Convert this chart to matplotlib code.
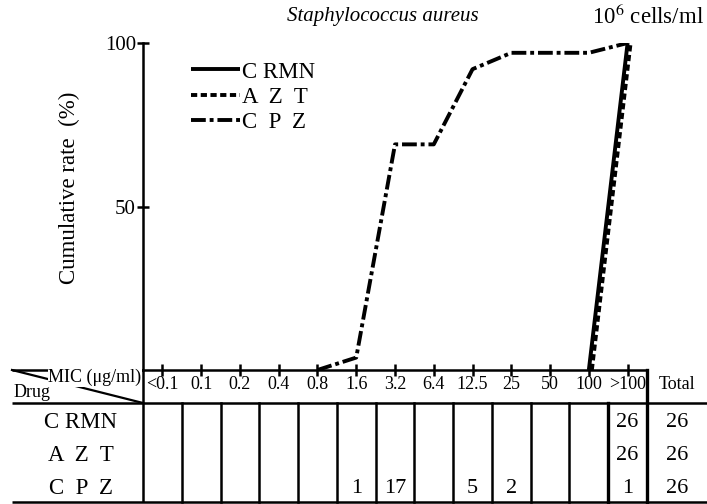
import matplotlib
matplotlib.use("Agg")
import matplotlib.pyplot as plt
import matplotlib.transforms as mtrans

plt.rcParams['font.family'] = ['Liberation Serif', 'DejaVu Serif']
plt.rcParams['mathtext.fontset'] = 'stix'

# ---- data ----
mic_labels = ["<0.1", "0.1", "0.2", "0.4", "0.8", "1.6", "3.2", "6.4", "12.5", "25", "50", "100", ">100"]
drugs = ["C RMN", "A  Z  T", "C  P  Z"]
legend_labels = ["C RMN", "A  Z  T", "C  P  Z"]
crmn_counts = [0, 0, 0, 0, 0, 0, 0, 0, 0, 0, 0, 0, 26]
azt_counts = [0, 0, 0, 0, 0, 0, 0, 0, 0, 0, 0, 0, 26]
cpz_counts = [0, 0, 0, 0, 0, 1, 17, 0, 5, 2, 0, 0, 1]
totals = [26, 26, 26]

# cumulative rate (%) as drawn
crmn_x = [11, 12]
crmn_y = [0, 100]
azt_x = [11, 12]
azt_y = [0, 100]
cpz_x = [4, 5, 6, 7, 8, 9, 10, 11, 12]
cpz_y = [0, 3.8, 69, 69, 92, 97, 97, 97, 100]

W, H = 707, 504
fig = plt.figure(figsize=(W / 100, H / 100), dpi=100)


def px(x0, y0, x1, y1):
    return [x0 / W, 1 - y1 / H, (x1 - x0) / W, (y1 - y0) / H]


LW = 1.8
ax = fig.add_axes(px(143, 43, 647, 370))
ax.set_xlim(-0.5, 12.5)
ax.set_ylim(0, 100)
for s in ["top", "right"]:
    ax.spines[s].set_visible(False)
for s in ["left", "bottom"]:
    ax.spines[s].set_linewidth(LW)
ax.set_xticks(range(len(mic_labels)))
ax.set_xticklabels([])
ax.set_yticks([50, 100])
ax.set_yticklabels(["50", "100"], fontsize=15)
ax.tick_params(axis="both", direction="inout", length=8, width=1.8, pad=1)
ax.set_ylabel("Cumulative rate  (%)", fontsize=16.5)
ax.yaxis.set_label_coords((80 - 143) / 504, (370 - 188) / 327)

ax.plot(crmn_x, crmn_y, color="black", lw=2.8, ls="-", label=legend_labels[0],
        solid_capstyle="butt")
off = mtrans.ScaledTranslation(3 / 100, 0, fig.dpi_scale_trans)
ax.plot(azt_x, azt_y, color="black", lw=2.8, ls=(0, (1.6, 0.9)), label=legend_labels[1],
        transform=ax.transData + off)
ax.plot(cpz_x, cpz_y, color="black", lw=2.8, ls=(0, (3.8, 1.0, 1.0, 1.0)),
        label=legend_labels[2])

leg = ax.legend(loc="upper left", bbox_to_anchor=((180 - 143) / 504, (370 - 50) / 327),
                frameon=False, fontsize=16.5, handlelength=2.1, handletextpad=0.1,
                labelspacing=0.18, borderpad=0)

fig.text(383 / W, 1 - 17 / H, "Staphylococcus aureus", style="italic", fontsize=15,
         ha="center", va="center")
fig.text(648 / W, 1 - 17 / H, r"10$^{6}$ cells/ml", fontsize=16.5, ha="center", va="center")

# ---- table ----
tax = fig.add_axes(px(143, 370, 647, 502))
tax.set_xlim(-0.5, 12.5)
tax.set_ylim(4, 0)
tax.axis("off")
unit = 504 / 13
xl = -0.5 - (143 - 12) / unit
xr = 12.5 + (707 - 647) / unit
kw = dict(color="black", lw=LW, clip_on=False, solid_capstyle="butt")
tax.plot([xl, -0.5], [0, 0], **kw)
tax.plot([xl, xr], [1, 1], **kw)
tax.plot([xl, xr], [4, 4], **kw)
tax.plot([xl, -0.5], [0, 1], color="black", lw=1.6, clip_on=False)
tax.plot([-0.5, -0.5], [0, 4], **kw)
tax.plot([12.5, 12.5], [0, 4], color="black", lw=2.4, clip_on=False)
for k in range(len(mic_labels) - 1):
    w = 2.4 if k == 11 else LW
    tax.plot([k + 0.5, k + 0.5], [1, 4], color="black", lw=w, clip_on=False)

for i, lab in enumerate(mic_labels):
    tax.text(i, 0.45, lab, ha="center", va="center", fontsize=13, clip_on=False)
xt = 12.5 + (707 - 647) / unit / 2
tax.text(xt, 0.45, "Total", ha="center", va="center", fontsize=13, clip_on=False)
tax.text(-0.5 - (143 - 95) / unit, 0.22, "MIC (\u03bcg/ml)", ha="center", va="center",
         fontsize=13, clip_on=False,
         bbox=dict(facecolor="white", edgecolor="none", pad=0.5))
tax.text(xl + 0.03, 0.68, "Drug", ha="left", va="center", fontsize=13, clip_on=False)

counts = [crmn_counts, azt_counts, cpz_counts]
xn = -0.5 - (143 - 81) / unit
for r, (name, row, tot) in enumerate(zip(drugs, counts, totals)):
    yc = 1.6 + r
    tax.text(xn, yc, name, ha="center", va="center", fontsize=16.5, clip_on=False)
    for i, c in enumerate(row):
        if c:
            tax.text(i, yc, str(c), ha="center", va="center", fontsize=16, clip_on=False)
    tax.text(xt, yc, str(tot), ha="center", va="center", fontsize=16, clip_on=False)

fig.savefig("out.png", dpi=100)
